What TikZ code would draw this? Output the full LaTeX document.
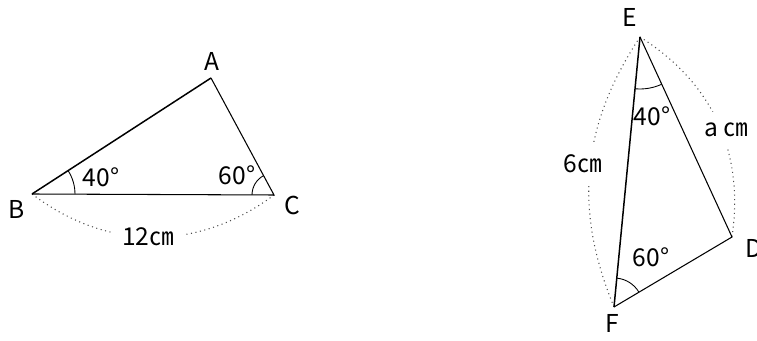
\documentclass[tikz,border=0pt]{standalone}
\usepackage{fontspec}
\setmainfont{Noto Sans CJK KR}
\usetikzlibrary{angles}

\begin{document}
\begin{tikzpicture}[every node/.style={font=\fontsize{14}{16}\selectfont}, x=0.02cm, y=0.02cm,
	side/.style={line width=0.6pt},
	longside/.style={line width=0.85pt},
	measure/.style={dotted, line width=0.6pt, black!70},
	gap/.style={fill=white, inner sep=0.22cm},
	anglemark/.style={draw, line width=0.5pt}]
	\useasboundingbox (0,0) rectangle (757,341);
	\coordinate (A) at (211,263);
	\coordinate (B) at (32,147);
	\coordinate (C) at (274,146);
	\coordinate (E) at (640,304);
	\coordinate (F) at (614,34);
	\coordinate (D) at (732,104);
	
	\draw[measure] (B) to[bend right=37] (C);
	\draw[measure] (E) to[bend right=28] (F);
	\draw[measure] (E) to[bend left=33] (D);
	
	\draw[longside] (B) -- (A);
	\draw[side] (A) -- (C) -- (B);
	\draw[longside] (E) -- (F);
	\draw[side] (F) -- (D) -- (E);
	
	\pic[anglemark, angle radius=0.86cm] {angle=C--B--A};
	\pic[anglemark, angle radius=0.44cm] {angle=A--C--B};
	\pic[anglemark, angle radius=1.04cm] {angle=F--E--D};
	\pic[anglemark, angle radius=0.58cm] {angle=D--F--E};
	
	\node (lblA) at (212,280) {A};
	\node (lblB) at (17,132) {B};
	\node (lblC) at (292,136) {C};
	\node (lblE) at (630,324) {E};
	\node (lblF) at (612,18) {F};
	\node (lblD) at (754,93) {D};
	
	\node (angB) at (101,164) {40°};
	\node (angC) at (237,166) {60°};
	\node (angE) at (652,225) {40°};
	\node (angF) at (651,84) {60°};
	
	\node[gap] (lenBC) at (148,104) {12㎝};
	\node[gap] (lenEF) at (583,177) {6㎝};
	\node[gap] (lenED) at (726,211) {a ㎝};
	
\end{tikzpicture}
\end{document}
